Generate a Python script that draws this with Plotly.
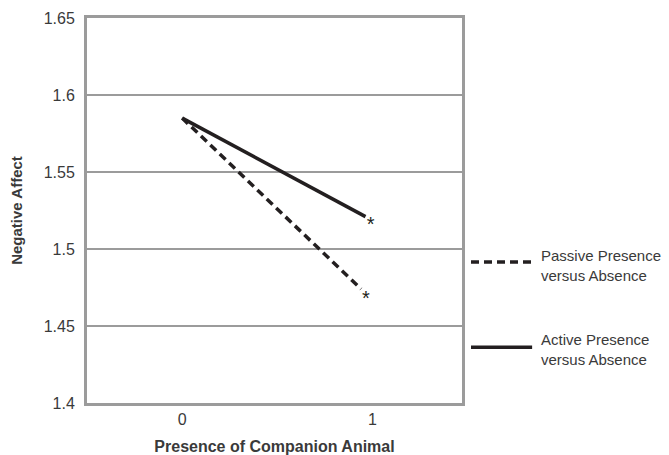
import plotly.graph_objects as go

# Data
x_vals = [0, 1]
series_names = ["Passive Presence<br>versus Absence", "Active Presence<br>versus Absence"]
passive_x = [0, 0.94]
passive_y = [1.585, 1.474]
active_x = [0, 0.963]
active_y = [1.585, 1.521]
star_x = [0.965, 0.99]
star_y = [1.467, 1.515]
y_ticks = [1.4, 1.45, 1.5, 1.55, 1.6, 1.65]
y_tick_labels = ["1.4", "1.45", "1.5", "1.55", "1.6", "1.65"]
x_ticks = [0, 1]
x_tick_labels = ["0", "1"]

line_color = "#231f20"
grid_color = "#9b9b9b"
text_color = "#3a3a3a"
font_family = "Liberation Sans, Arial, sans-serif"

fig = go.Figure()
fig.add_trace(go.Scatter(x=passive_x, y=passive_y, mode="lines",
                         line=dict(color=line_color, width=3.5, dash="8px,5px"),
                         name=series_names[0], showlegend=False, hoverinfo="skip"))
fig.add_trace(go.Scatter(x=active_x, y=active_y, mode="lines",
                         line=dict(color=line_color, width=3.5),
                         name=series_names[1], showlegend=False, hoverinfo="skip"))
fig.add_trace(go.Scatter(x=star_x, y=star_y, mode="text", text=["*", "*"],
                         textposition="middle center",
                         textfont=dict(size=20, color=line_color, family=font_family),
                         showlegend=False, hoverinfo="skip"))

# Manual legend (to match long line samples)
legend_items = [(series_names[0], "8px,5px", 0.366, 0.358), (series_names[1], "solid", 0.145, 0.138)]
for name, dash, ly, ty in legend_items:
    fig.add_shape(type="line", xref="paper", yref="paper", x0=1.024, x1=1.187, y0=ly, y1=ly,
                  line=dict(color=line_color, width=3.5, dash=dash))
    fig.add_annotation(xref="paper", yref="paper", x=1.205, y=ty, text=name, showarrow=False,
                       xanchor="left", yanchor="middle", align="left",
                       font=dict(size=15, color=text_color, family=font_family))

fig.update_layout(
    width=669, height=455,
    margin=dict(l=87, r=207, t=18, b=52, autoexpand=False),
    paper_bgcolor="white", plot_bgcolor="white",
    font=dict(family=font_family, size=16, color=text_color),
    xaxis=dict(range=[-0.5, 1.47], tickvals=x_ticks, ticktext=x_tick_labels,
               showgrid=False, zeroline=False, showline=True, mirror=True,
               linecolor=grid_color, linewidth=3, ticks="", automargin=False,
               tickfont=dict(size=16),
               title=dict(text="<b>Presence of Companion Animal</b>", standoff=17,
                          font=dict(size=16, color=text_color))),
    yaxis=dict(range=[1.4, 1.65], tickvals=y_ticks, ticktext=y_tick_labels,
               showgrid=True, gridcolor=grid_color, gridwidth=2, zeroline=False,
               showline=True, mirror=True, linecolor=grid_color, linewidth=3, ticks="",
               ticklabelstandoff=6, automargin=False, tickfont=dict(size=16),
               title=dict(text="<b>Negative Affect</b>", standoff=18,
                          font=dict(size=15, color=text_color))),
)

fig.write_html("out.html", config={"displayModeBar": False},
               post_script="document.body.style.margin='0';")
